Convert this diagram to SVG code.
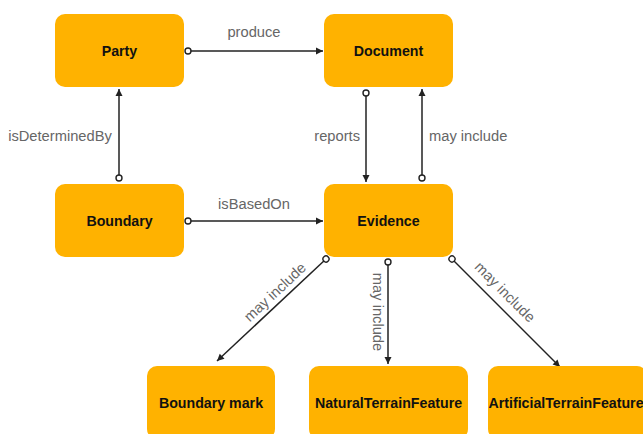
<svg xmlns="http://www.w3.org/2000/svg" width="643" height="434" viewBox="0 0 643 434">
<style>
.node rect{fill:#FFB200;stroke:none}
.node text{font-family:"Liberation Sans",Arial,sans-serif;font-weight:bold;font-size:14.2px;fill:#111;text-anchor:middle;dominant-baseline:central}
.edge{stroke:#222;stroke-width:1.5;fill:none;marker-start:url(#dot);marker-end:url(#arr)}
.lbl{font-family:"Liberation Sans",Arial,sans-serif;font-size:14.7px;fill:#666;dominant-baseline:central}
</style>
<defs>
<marker id="dot" markerUnits="userSpaceOnUse" markerWidth="10" markerHeight="10" refX="5" refY="5" orient="auto">
<circle cx="5" cy="5" r="3" fill="#fff" stroke="#222" stroke-width="1.4"/>
</marker>
<marker id="arr" markerUnits="userSpaceOnUse" markerWidth="10" markerHeight="10" refX="8" refY="5" orient="auto">
<path d="M1,1.5 L8,5 L1,8.5 Z" fill="#222"/>
</marker>
</defs>
<rect width="643" height="434" fill="#fff"/>
<g id="connectors">
<line class="edge" x1="188" y1="51" x2="323" y2="51"/>
<text class="lbl" x="254" y="32" text-anchor="middle">produce</text>
<line class="edge" x1="119" y1="178" x2="119" y2="89"/>
<text class="lbl" x="60" y="136" text-anchor="middle">isDeterminedBy</text>
<line class="edge" x1="188" y1="221" x2="323" y2="221"/>
<text class="lbl" x="254" y="204" text-anchor="middle">isBasedOn</text>
<line class="edge" x1="366" y1="93" x2="366" y2="182"/>
<text class="lbl" x="360" y="136" text-anchor="end">reports</text>
<line class="edge" x1="422" y1="178" x2="422" y2="89"/>
<text class="lbl" x="429" y="136" text-anchor="start">may include</text>
<line class="edge" x1="326" y1="259" x2="217" y2="361"/>
<text class="lbl" x="275" y="292" text-anchor="middle" transform="rotate(-43 275 292)">may include</text>
<line class="edge" x1="388" y1="262" x2="388" y2="364"/>
<text class="lbl" x="378" y="312" text-anchor="middle" transform="rotate(90 378 312)">may include</text>
<line class="edge" x1="452" y1="259" x2="560" y2="367"/>
<text class="lbl" x="505" y="292" text-anchor="middle" transform="rotate(45 505 292)">may include</text>
</g>
<g id="party" class="node"><rect x="55" y="14" width="129" height="73" rx="10"/><text x="119.5" y="51">Party</text></g>
<g id="document" class="node"><rect x="324" y="14" width="129" height="73" rx="10"/><text x="388.5" y="51">Document</text></g>
<g id="boundary" class="node"><rect x="55" y="184" width="129" height="73" rx="10"/><text x="119.5" y="221">Boundary</text></g>
<g id="evidence" class="node"><rect x="324" y="184" width="129" height="73" rx="10"/><text x="388.5" y="221">Evidence</text></g>
<g id="boundary-mark" class="node"><rect x="147" y="366" width="128" height="73" rx="10"/><text x="211" y="403">Boundary mark</text></g>
<g id="natural" class="node"><rect x="309" y="366" width="159" height="73" rx="10"/><text x="388.5" y="403">NaturalTerrainFeature</text></g>
<g id="artificial" class="node"><rect x="488" y="366" width="159" height="73" rx="10"/><text x="566" y="403">ArtificialTerrainFeature</text></g>
</svg>
